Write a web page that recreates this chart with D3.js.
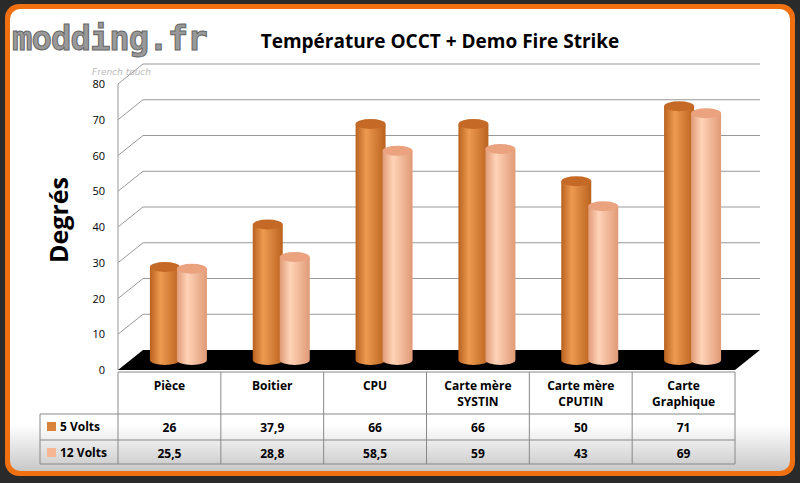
<!DOCTYPE html>
<html><head><meta charset="utf-8">
<script src="https://cdn.jsdelivr.net/npm/d3@7"></script>
<style>body{margin:0;background:#2a2a2a}</style>
</head><body>
<svg id="chart" width="800" height="483"></svg>
<script>
'use strict';

var categories = ['Pièce', 'Boitier', 'CPU', 'Carte mère|SYSTIN', 'Carte mère|CPUTIN', 'Carte|Graphique'];
var volts5 = [26, 37.9, 66, 66, 50, 71];
var volts12 = [25.5, 28.8, 58.5, 59, 43, 69];
var seriesNames = ['5 Volts', '12 Volts'];
var tickValues = [0, 10, 20, 30, 40, 50, 60, 70, 80];

var svg = d3.select('#chart');
var defs = svg.append('defs');

var bg = defs.append('linearGradient').attr('id', 'bg').attr('x1', 0).attr('y1', 0).attr('x2', 0).attr('y2', 1);
bg.append('stop').attr('offset', '0.9').attr('stop-color', '#ffffff');
bg.append('stop').attr('offset', '1').attr('stop-color', '#c8c8c8');

function cylGrad(id, dark, light) {
    var g = defs.append('linearGradient').attr('id', id);
    g.append('stop').attr('offset', '0').attr('stop-color', dark);
    g.append('stop').attr('offset', '0.35').attr('stop-color', light);
    g.append('stop').attr('offset', '1').attr('stop-color', dark);
}
cylGrad('g5', '#b9621f', '#ee9a50');
cylGrad('g12', '#e09a76', '#ffd3b8');

// frame
svg.append('rect').attr('x', 5).attr('y', 4).attr('width', 790).attr('height', 472)
    .attr('rx', 14).attr('fill', '#f07010');
svg.append('rect').attr('x', 10).attr('y', 9).attr('width', 780).attr('height', 462)
    .attr('rx', 10).attr('fill', 'url(#bg)');

// logo
svg.append('text').attr('x', 12).attr('y', 50).attr('font-family', 'DejaVu Sans Mono')
    .attr('font-weight', 'bold').attr('font-size', 34).attr('fill', '#999').attr('stroke', '#666')
    .attr('letter-spacing', -1).text('modding.fr');
svg.append('text').attr('x', 92).attr('y', 75).attr('font-family', 'DejaVu Sans')
    .attr('font-style', 'italic').attr('font-size', 9).attr('fill', '#bbb').text('French touch');

var x0 = 118, x1 = 735, dx = 25, dy = -20;
var y = d3.scaleLinear().domain([0, 80]).range([370, 84]);

// back wall grid
var grid = svg.append('g');
tickValues.forEach(function (t) {
    if (t === 0) return;
    grid.append('polyline')
        .attr('points', [[x0, y(t)], [x0 + dx, y(t) + dy], [x1 + dx, y(t) + dy]].join(' '))
        .attr('fill', 'none').attr('stroke', '#999').attr('stroke-width', 1);
});
grid.append('line').attr('x1', x0).attr('x2', x0).attr('y1', y(0)).attr('y2', y(80)).attr('stroke', '#999');

// floor
svg.append('polygon')
    .attr('points', [[x0, y(0)], [x1, y(0)], [x1 + dx, y(0) + dy], [x0 + dx, y(0) + dy]].join(' '))
    .attr('fill', '#000');

svg.append('g').selectAll('text').data(tickValues).enter().append('text')
    .attr('x', 105).attr('y', function (d) { return y(d) + 4; })
    .attr('text-anchor', 'end').attr('font-family', 'Open Sans').attr('font-size', 11)
    .text(function (d) { return d; });

var band = d3.scaleBand().domain(d3.range(categories.length)).range([x0, x1]);
var rw = 15, ry = 5;
var bars = svg.append('g');
[volts5, volts12].forEach(function (vals, s) {
    vals.forEach(function (v, i) {
        var cx = band(i) + band.bandwidth() / 2 - 12 + s * 27 + dx / 2 - 5;
        var base = y(0) + dy / 2;
        var top = base - (y(0) - y(v));
        var grad = s === 0 ? 'url(#g5)' : 'url(#g12)';
        bars.append('path')
            .attr('d', 'M' + (cx - rw) + ',' + top + ' L' + (cx - rw) + ',' + base +
                ' A' + rw + ',' + ry + ' 0 0 0 ' + (cx + rw) + ',' + base +
                ' L' + (cx + rw) + ',' + top + ' Z')
            .attr('fill', grad);
        bars.append('ellipse').attr('cx', cx).attr('cy', top).attr('rx', rw).attr('ry', ry)
            .attr('fill', s === 0 ? '#c56a26' : '#eaa27f');
    });
});

// title and axis label
svg.append('text').attr('x', 440).attr('y', 48).attr('text-anchor', 'middle')
    .attr('font-family', 'Open Sans').attr('font-weight', 'bold').attr('font-size', 19)
    .text('Température OCCT + Demo Fire Strike');
svg.append('text').attr('transform', 'translate(68,220) rotate(-90)').attr('text-anchor', 'middle')
    .attr('font-family', 'Open Sans').attr('font-weight', 'bold').attr('font-size', 25)
    .text('Degrés');

// data table
var table = svg.append('g').attr('font-family', 'Open Sans').attr('font-weight', 'bold').attr('font-size', 12);
var rows = [372, 414, 440, 464];
var line = function (a, b, c, d) {
    table.append('line').attr('x1', a).attr('y1', b).attr('x2', c).attr('y2', d)
        .attr('stroke', '#888').attr('stroke-width', 1);
};
line(x0, rows[0], x1, rows[0]);
line(40, rows[1], x1, rows[1]);
line(40, rows[2], x1, rows[2]);
line(40, rows[3], x1, rows[3]);
line(40, rows[1], 40, rows[3]);
d3.range(categories.length + 1).forEach(function (i) {
    var xx = i < categories.length ? band(i) : x1;
    line(xx, rows[0], xx, rows[3]);
});
categories.forEach(function (c, i) {
    var parts = c.split('|');
    parts.forEach(function (p, k) {
        table.append('text').attr('x', band(i) + band.bandwidth() / 2).attr('y', 390 + k * 16)
            .attr('text-anchor', 'middle').text(p);
    });
    [volts5, volts12].forEach(function (vals, s) {
        table.append('text').attr('x', band(i) + band.bandwidth() / 2).attr('y', rows[s + 1] + 18)
            .attr('text-anchor', 'middle').text(String(vals[i]).replace('.', ','));
    });
});
seriesNames.forEach(function (n, s) {
    table.append('rect').attr('x', 47).attr('y', rows[s + 1] + 8).attr('width', 9).attr('height', 9)
        .attr('fill', s === 0 ? '#d9823a' : '#f6b693');
    table.append('text').attr('x', 60).attr('y', rows[s + 1] + 17).text(n);
});
</script>
</body></html>
